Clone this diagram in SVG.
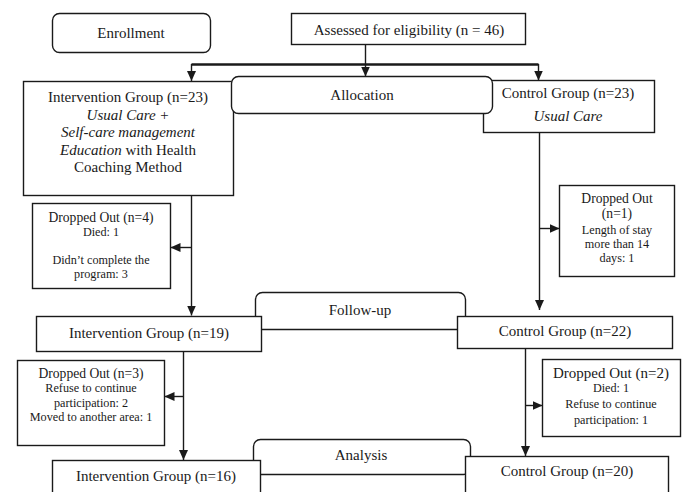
<svg xmlns="http://www.w3.org/2000/svg" width="682" height="492" viewBox="0 0 682 492">
<style>
.box{fill:#fff;stroke:#1a1a1a;stroke-width:1.4}
.ln{fill:none;stroke:#1a1a1a;stroke-width:1.4}
.thick{fill:none;stroke:#1a1a1a;stroke-width:2.4}
text{font-family:"Liberation Serif","Times New Roman",serif;fill:#1a1a1a;text-anchor:middle}
.t15{font-size:15px}
.t14{font-size:13.6px}
.t12{font-size:12.2px}
.i{font-style:italic}
</style>
<defs>
<marker id="ah" markerUnits="userSpaceOnUse" markerWidth="10" markerHeight="10" viewBox="0 0 10 10" refX="10" refY="5" orient="auto">
<path d="M0,0.5 L10,5 L0,9.5 Z" fill="#1a1a1a"/>
</marker>
</defs>

<g id="enrollment"><rect class="box" x="52.5" y="13.5" width="158" height="39" rx="7"/><text class="t15" x="131" y="38">Enrollment</text></g>
<g id="assessed"><rect class="box" x="291.5" y="13.5" width="234" height="31"/><text class="t15" x="409" y="35">Assessed for eligibility (n = 46)</text></g>

<g id="followup-label"><rect class="box" x="255.5" y="292.5" width="210" height="37" rx="7"/><text class="t15" x="360" y="315">Follow-up</text></g>
<g id="analysis-label"><rect class="box" x="253.5" y="439.5" width="217" height="35" rx="7"/><text class="t15" x="361" y="460">Analysis</text></g>

<g id="int23"><rect class="box" x="23.5" y="81.5" width="210" height="114"/>
<text class="t15" x="128" y="102">Intervention Group (n=23)</text>
<text class="t15 i" x="128" y="119.5">Usual Care +</text>
<text class="t15 i" x="128" y="137">Self-care management</text>
<text class="t15" x="128" y="154.5"><tspan class="i">Education</tspan> with Health</text>
<text class="t15" x="128" y="172">Coaching Method</text></g>
<g id="ctrl23"><rect class="box" x="483.5" y="80.5" width="171" height="52"/>
<text class="t15" x="568" y="98">Control Group (n=23)</text>
<text class="t15 i" x="568" y="121">Usual Care</text></g>
<g id="allocation"><rect class="box" x="231.5" y="76.5" width="261" height="37" rx="7"/><text class="t15" x="362" y="100">Allocation</text></g>

<g id="drop4"><rect class="box" x="32.5" y="203.5" width="138" height="85"/>
<text class="t14" x="101" y="222">Dropped Out (n=4)</text>
<text class="t12" x="101" y="236">Died: 1</text>
<text class="t12" x="101" y="264">Didn’t complete the</text>
<text class="t12" x="101" y="278">program: 3</text></g>
<g id="drop1"><rect class="box" x="559.5" y="185.5" width="115" height="91"/>
<text class="t14" x="617" y="203">Dropped Out</text>
<text class="t14" x="617" y="218">(n=1)</text>
<text class="t12" x="617" y="234">Length of stay</text>
<text class="t12" x="617" y="248">more than 14</text>
<text class="t12" x="617" y="262">days: 1</text></g>

<g id="int19"><rect class="box" x="36.5" y="316.5" width="225" height="35"/><text class="t15" x="149" y="338">Intervention Group (n=19)</text></g>
<g id="ctrl22"><rect class="box" x="457.5" y="316.5" width="215" height="32"/><text class="t15" x="565" y="336">Control Group (n=22)</text></g>

<g id="drop3"><rect class="box" x="17.5" y="360.5" width="147" height="85"/>
<text class="t14" x="91" y="378">Dropped Out (n=3)</text>
<text class="t12" x="91" y="392">Refuse to continue</text>
<text class="t12" x="91" y="407">participation: 2</text>
<text class="t12" x="91" y="421">Moved to another area: 1</text></g>
<g id="drop2"><rect class="box" x="542.5" y="359.5" width="138" height="77"/>
<text class="t15" x="611" y="378">Dropped Out (n=2)</text>
<text class="t12" x="611" y="392">Died: 1</text>
<text class="t12" x="611" y="408">Refuse to continue</text>
<text class="t12" x="611" y="424">participation: 1</text></g>

<g id="int16"><rect class="box" x="52.5" y="460.5" width="208" height="40"/><text class="t15" x="156" y="481">Intervention Group (n=16)</text></g>
<g id="ctrl20"><rect class="box" x="465.5" y="456.5" width="203" height="44"/><text class="t15" x="567" y="476">Control Group (n=20)</text></g>

<g id="connectors">
<path class="ln" d="M365.5,44.5 V64" />
<path class="thick" d="M191.5,64.5 H538.5" />
<path class="ln" d="M191.5,64 V81" marker-end="url(#ah)"/>
<path class="ln" d="M365.5,64 V76.5" marker-end="url(#ah)"/>
<path class="ln" d="M538.5,64 V80.5" marker-end="url(#ah)"/>
<path class="ln" d="M191.5,195.5 V315.5" marker-end="url(#ah)"/>
<path class="ln" d="M191.5,247.5 H170.5" marker-end="url(#ah)"/>
<path class="ln" d="M539.5,132.5 V310" marker-end="url(#ah)"/>
<path class="ln" d="M539.5,228.5 H559.5" marker-end="url(#ah)"/>
<path class="ln" d="M183.5,351.5 V460" marker-end="url(#ah)"/>
<path class="ln" d="M183.5,396.5 H164.5" marker-end="url(#ah)"/>
<path class="ln" d="M525.5,348.5 V456" marker-end="url(#ah)"/>
<path class="ln" d="M525.5,405.5 H542.5" marker-end="url(#ah)"/>
</g>
</svg>
